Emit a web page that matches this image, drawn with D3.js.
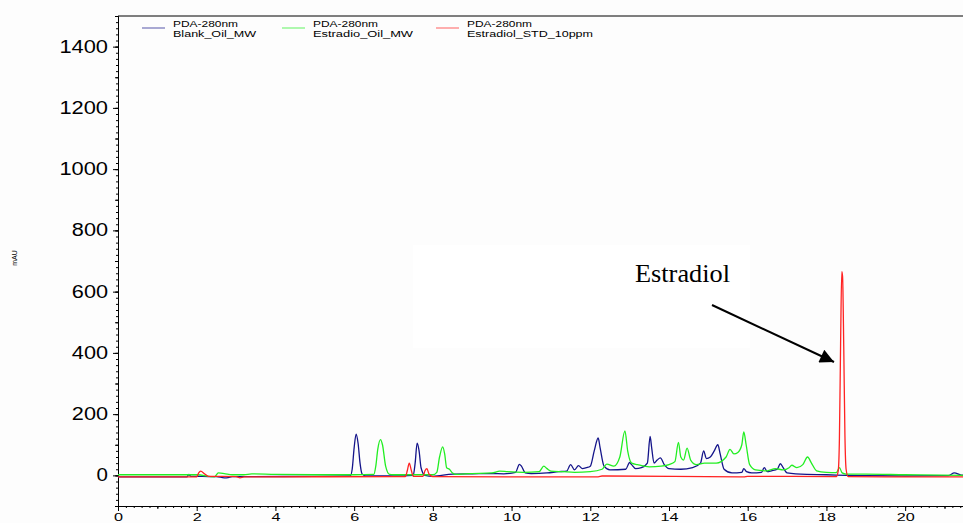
<!DOCTYPE html>
<html>
<head>
<meta charset="utf-8">
<script src="https://cdn.jsdelivr.net/npm/d3@7/dist/d3.min.js"></script>
<style>
  body { margin: 0; background: #fdfdfd; }
  svg { display: block; }
  .axis text { font-family: "Liberation Sans", Arial, sans-serif; fill: #000; }
  .axis path, .axis line { stroke: #000; }
</style>
</head>
<body>
<div id="chart"></div>
<script>
// retention time (min) / absorbance (mAU)
var blankRt = [0, 0.8, 1.75, 1.8, 1.85, 2.0, 2.3, 2.5, 2.7, 2.8, 2.9, 3.1, 5.0, 5.9, 5.95, 6.0, 6.05, 6.1, 6.15, 6.2, 6.3,
  7.0, 7.5, 7.55, 7.6, 7.65, 7.7, 7.8, 8.0, 8.5, 9.0, 9.5, 9.8, 10.1, 10.2, 10.25, 10.35, 10.5, 10.9, 11.2, 11.4, 11.5,
  11.6, 11.7, 11.8, 11.9, 12.0, 12.1, 12.2, 12.25, 12.35, 12.5, 12.9, 13.0, 13.05, 13.15, 13.3, 13.45, 13.52, 13.56,
  13.62, 13.7, 13.78, 13.88, 14.0, 14.3, 14.6, 14.8, 14.88, 14.95, 15.05, 15.15, 15.24, 15.3, 15.4, 15.6, 15.85, 15.9,
  15.97, 16.1, 16.35, 16.42, 16.5, 16.6, 16.75, 16.83, 16.9, 17.0, 17.5, 18.0, 18.5, 19.0, 20.0, 21.1, 21.25, 21.4, 21.5];
var blankVal = [-5, -5, -5, 3, -3, -3, -4, -4, -8, -7, -4, -4, -3, -2, 20, 90, 135, 105, 40, 5, -2,
  -2, 0, 40, 105, 80, 25, 0, -3, 4, 5, 6, 5, 10, 36, 30, 8, 6, 8, 12, 14, 35,
  18, 32, 22, 25, 30, 80, 122, 90, 30, 18, 20, 42, 35, 22, 25, 40, 127, 90,
  40, 50, 57, 35, 22, 20, 25, 40, 80, 55, 60, 80, 100, 70, 20, 8, 10, 22,
  12, 8, 10, 25, 12, 15, 20, 38, 25, 8, 3, 2, 0, -1, -2, -1, 8, 2, 0];

var oilRt = [0, 1.0, 2.0, 2.45, 2.55, 2.7, 2.9, 3.2, 3.4, 4.0, 5.0, 6.0, 6.5, 6.55, 6.6, 6.67, 6.72, 6.8, 6.9, 7.0,
  8.0, 8.1, 8.17, 8.25, 8.3, 8.35, 8.42, 8.5, 8.6, 8.8, 9.0, 9.5, 9.7, 9.9, 10.3, 10.7, 10.82, 10.9, 11.0, 11.3, 11.6,
  12.0, 12.3, 12.42, 12.6, 12.75, 12.88, 12.95, 13.05, 13.2, 13.5, 13.8, 14.0, 14.15, 14.24, 14.3, 14.37, 14.46, 14.55,
  14.7, 14.9, 15.2, 15.45, 15.55, 15.65, 15.75, 15.85, 15.9, 15.96, 16.05, 16.2, 16.5, 16.7, 16.9, 17.05, 17.12, 17.25,
  17.4, 17.52, 17.62, 17.75, 18.0, 18.25, 18.33, 18.4, 18.5, 19.0, 20.0, 21.5];
var oilVal = [2, 2, 2, -5, 8, 6, 2, 2, 5, 3, 2, 2, 3, 30, 85, 117, 100, 30, 3, 2,
  2, 10, 60, 93, 70, 25, 20, 8, 3, 5, 6, 8, 14, 12, 10, 12, 30, 22, 14, 12, 10,
  12, 20, 37, 30, 60, 145, 80, 40, 35, 28, 30, 35, 45, 108, 60, 50, 89, 50,
  35, 40, 40, 60, 85, 70, 75, 100, 142, 100, 35, 18, 15, 22, 18, 25, 33, 25,
  35, 60, 40, 15, 10, 9, 25, 8, 4, 4, 2, 0];

var stdRt = [0, 2.0, 2.05, 2.1, 2.2, 2.3, 3.0, 3.1, 3.2, 7.3, 7.35, 7.4, 7.45, 7.5, 7.75, 7.8, 7.85, 7.9, 8.0,
  10.0, 12.2, 12.3, 15.9, 16.0, 18.25, 18.3, 18.33, 18.36, 18.39, 18.41, 18.44, 18.47, 18.5, 18.55, 20.0, 21.5];
var stdVal = [-5, -5, 8, 14, 5, -3, -4, -8, -5, -4, 15, 40, 18, -3, -3, 15, 22, 5, -4,
  -5, -5, -2, -5, -3, -4, 15, 120, 430, 665, 650, 420, 130, 20, -4, -5, -5];

var seriesNames = ["Blank_Oil_MW", "Estradio_Oil_MW", "Estradiol_STD_10ppm"];
var seriesColors = ["#14148a", "#22ee22", "#ff2222"];
var detector = "PDA-280nm";
var yTickValues = [0, 200, 400, 600, 800, 1000, 1200, 1400];
var xTickValues = [0, 2, 4, 6, 8, 10, 12, 14, 16, 18, 20];

(function() {
var W = 963, H = 523;
var pLeft = 118, pRight = 963, pTop = 16, pBottom = 506;

var x = d3.scaleLinear().domain([0, 21.47]).range([pLeft, pRight]);
var y = d3.scaleLinear().domain([-100, 1500]).range([pBottom, pTop]);

var svg = d3.select("#chart").append("svg")
  .attr("width", W).attr("height", H);

svg.append("rect").attr("width", W).attr("height", H).attr("fill", "#fdfdfd");
// white box that sits behind the annotation in the original figure
svg.append("rect").attr("x", 413).attr("y", 245).attr("width", 337).attr("height", 103).attr("fill", "#ffffff");

svg.append("clipPath").attr("id", "plotclip").append("rect")
  .attr("x", pLeft).attr("y", pTop).attr("width", pRight - pLeft).attr("height", pBottom - pTop);

// minor + medium ticks
function range(a, b, s) {
  var out = [];
  for (var v = a; v <= b + 1e-9; v += s) out.push(Math.round(v * 1000) / 1000);
  return out;
}
svg.append("g").attr("class", "axis")
  .attr("transform", "translate(" + pLeft + ",0)")
  .call(d3.axisLeft(y).tickValues(range(-100, 1500, 20)).tickSize(2).tickSizeOuter(0).tickFormat(""));
svg.append("g").attr("class", "axis")
  .attr("transform", "translate(" + pLeft + ",0)")
  .call(d3.axisLeft(y).tickValues(range(-100, 1500, 100)).tickSize(3).tickSizeOuter(0).tickFormat(""));
svg.append("g").attr("class", "axis")
  .attr("transform", "translate(0," + pBottom + ")")
  .call(d3.axisBottom(x).tickValues(range(0, 21.4, 0.2)).tickSize(2).tickSizeOuter(0).tickFormat(""));
svg.append("g").attr("class", "axis")
  .attr("transform", "translate(0," + pBottom + ")")
  .call(d3.axisBottom(x).tickValues(range(1, 21, 2)).tickSize(3).tickSizeOuter(0).tickFormat(""));

var yAxis = svg.append("g").attr("class", "axis")
  .attr("transform", "translate(" + pLeft + ",0)")
  .call(d3.axisLeft(y).tickValues(yTickValues).tickSize(5).tickPadding(5).tickSizeOuter(0)
    .tickFormat(d3.format("d")));
yAxis.selectAll("text")
  .style("font-size", "17.5px")
  .attr("textLength", function(d) { return String(d).length * 12.4 - 1; })
  .attr("lengthAdjust", "spacingAndGlyphs");

var xAxis = svg.append("g").attr("class", "axis")
  .attr("transform", "translate(0," + pBottom + ")")
  .call(d3.axisBottom(x).tickValues(xTickValues).tickSize(5).tickPadding(2).tickSizeOuter(0));
xAxis.selectAll("text")
  .style("font-size", "11.5px")
  .attr("textLength", function(d) { return String(d).length * 9; })
  .attr("lengthAdjust", "spacingAndGlyphs");

// top frame line
svg.append("line").attr("x1", pLeft).attr("x2", pRight).attr("y1", pTop).attr("y2", pTop)
  .attr("stroke", "#000").attr("stroke-width", 1);

svg.append("text")
  .attr("transform", "translate(17,258) rotate(-90)")
  .attr("text-anchor", "middle")
  .style("font-family", "Liberation Sans, Arial, sans-serif")
  .style("font-size", "7px")
  .text("mAU");

var traces = [
  { rt: blankRt, val: blankVal },
  { rt: oilRt, val: oilVal },
  { rt: stdRt, val: stdVal }
];

var line = d3.line()
  .x(function(d) { return x(d[0]); })
  .y(function(d) { return y(d[1]); })
  .curve(d3.curveMonotoneX);

var plot = svg.append("g").attr("clip-path", "url(#plotclip)");
traces.forEach(function(t, i) {
  var pts = t.rt.map(function(r, k) { return [r, t.val[k]]; });
  plot.append("path")
    .datum(pts)
    .attr("d", line)
    .attr("fill", "none")
    .attr("stroke", seriesColors[i])
    .attr("stroke-width", 1.3)
    .attr("stroke-linejoin", "round");
});

// legend
var legX = [142, 282, 436];
var legLen = [83, 100, 126];
seriesNames.forEach(function(n, i) {
  svg.append("line")
    .attr("x1", legX[i]).attr("x2", legX[i] + 23)
    .attr("y1", 28).attr("y2", 28)
    .attr("stroke", seriesColors[i]).attr("stroke-opacity", 0.6).attr("stroke-width", 1.2);
  svg.append("text")
    .attr("x", legX[i] + 31).attr("y", 26.5)
    .attr("textLength", 65).attr("lengthAdjust", "spacingAndGlyphs")
    .style("font-family", "Liberation Sans, Arial, sans-serif").style("font-size", "8.5px")
    .text(detector);
  svg.append("text")
    .attr("x", legX[i] + 31).attr("y", 36.5)
    .attr("textLength", legLen[i]).attr("lengthAdjust", "spacingAndGlyphs")
    .style("font-family", "Liberation Sans, Arial, sans-serif").style("font-size", "8.5px")
    .text(n);
});

// annotation
svg.append("defs").append("marker")
  .attr("id", "arrowhead")
  .attr("viewBox", "0 0 10 10")
  .attr("refX", 10).attr("refY", 5)
  .attr("markerWidth", 16).attr("markerHeight", 14)
  .attr("markerUnits", "userSpaceOnUse")
  .attr("orient", "auto")
  .append("path").attr("d", "M0,0 L10,5 L0,10 z").attr("fill", "#000");

svg.append("text")
  .attr("x", 635).attr("y", 282)
  .attr("textLength", 95).attr("lengthAdjust", "spacingAndGlyphs")
  .style("font-family", "Liberation Serif, Times New Roman, serif")
  .style("font-size", "26px")
  .text("Estradiol");

svg.append("line")
  .attr("x1", 712).attr("y1", 305).attr("x2", 834).attr("y2", 362)
  .attr("stroke", "#000").attr("stroke-width", 2)
  .attr("marker-end", "url(#arrowhead)");
})();
</script>
</body>
</html>
